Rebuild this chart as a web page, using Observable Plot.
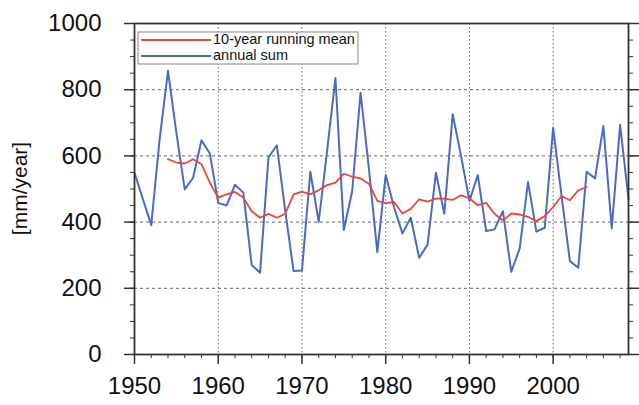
<!DOCTYPE html>
<html>
<head>
<meta charset="utf-8">
<script src="https://cdn.jsdelivr.net/npm/d3@7"></script>
<script src="https://cdn.jsdelivr.net/npm/@observablehq/plot@0.6"></script>
<style>
  html, body { margin: 0; padding: 0; background: #fff; }
  svg { display: block; }
</style>
</head>
<body>
<div id="chart"></div>
<script>
const firstYear = 1950;
const annualSum = [
  549, 470, 391, 650, 857, 670, 499, 534, 647, 607,
  458, 450, 513, 489, 270, 247, 595, 632, 435, 252,
  254, 552, 401, 615, 835, 376, 494, 791, 560, 309,
  542, 445, 366, 413, 292, 332, 549, 425, 726, 600,
  464, 542, 373, 378, 433, 250, 320, 521, 371, 383,
  685, 480, 282, 262, 552, 532, 690, 381, 694, 469
];
const meanFirstYear = 1954;
const runningMean = [
  590, 580, 577, 590, 575, 519, 474, 484, 491, 474, 433, 413,
  425, 413, 425, 484, 492, 484, 496, 512, 519, 546, 537, 532, 516, 464, 457,
  461, 426, 440, 469, 462, 471, 471, 467, 481, 472, 451, 458, 425, 405, 426, 423,
  416, 403, 418, 445, 479, 466, 496, 506
];
const yMajorTicks = [0, 200, 400, 600, 800, 1000];
const yGridTicks = [200, 400, 600, 800];
const xMajorTicks = [1950, 1960, 1970, 1980, 1990, 2000];
const xGridTicks = [1960, 1970, 1980, 1990, 2000];
const seriesNames = ["10-year running mean", "annual sum"];
const seriesColors = ["#e8473c", "#4a6bc2"];

const sumData = annualSum.map((v, i) => ({year: firstYear + i, value: v}));
const meanData = runningMean.map((v, i) => ({year: meanFirstYear + i, value: v}));

const yMinor = d3.range(0, 1001, 50);
const xMinor = d3.range(1950, 2010, 2);

const W = 639, H = 405;
const M = {top: 23, right: 11, bottom: 51, left: 134};
const font = "'Liberation Sans', Arial, Helvetica, sans-serif";

const plot = Plot.plot({
  width: W,
  height: H,
  marginTop: M.top,
  marginRight: M.right,
  marginBottom: M.bottom,
  marginLeft: M.left,
  style: {fontFamily: font, background: "#fff"},
  x: {domain: [1950, 2009], label: null},
  y: {domain: [0, 1000], label: null},
  marks: [
    Plot.gridY(yGridTicks, {stroke: "#666", strokeOpacity: 1, strokeDasharray: "3,3", strokeWidth: 1}),
    Plot.gridX(xGridTicks, {stroke: "#666", strokeOpacity: 1, strokeDasharray: "1.5,2.5", strokeWidth: 1}),
    Plot.axisY(yMinor, {anchor: "left", tickSize: 4, text: null, stroke: "#333", label: null}),
    Plot.axisY(yMinor, {anchor: "right", tickSize: 4, text: null, stroke: "#333", label: null}),
    Plot.axisY(yMajorTicks, {anchor: "left", tickSize: 10, tickPadding: 23, fontSize: 24, stroke: "#333", strokeWidth: 1.5, fill: "#111", tickFormat: d => String(d), label: null}),
    Plot.axisY(yMajorTicks, {anchor: "right", tickSize: 10, text: null, stroke: "#333", strokeWidth: 1.5, label: null}),
    Plot.axisX(xMinor, {anchor: "bottom", tickSize: 4, text: null, stroke: "#333", label: null}),
    Plot.axisX(xMajorTicks, {anchor: "bottom", tickSize: 10, tickPadding: 12, fontSize: 24, stroke: "#333", strokeWidth: 1.5, fill: "#111", tickFormat: d => String(d), label: null}),
    Plot.line(sumData, {x: "year", y: "value", stroke: seriesColors[1], strokeWidth: 2}),
    Plot.line(meanData, {x: "year", y: "value", stroke: seriesColors[0], strokeWidth: 1.8}),
    Plot.frame({stroke: "#333", strokeWidth: 1.8})
  ]
});

const svg = d3.select(plot);
// y-axis title
svg.append("text")
  .attr("transform", `translate(21,${(M.top + H - M.bottom) / 2}) rotate(-90)`)
  .attr("text-anchor", "middle")
  .attr("dominant-baseline", "middle")
  .attr("font-family", font)
  .attr("font-size", 21)
  .attr("fill", "#111")
  .text("[mm/year]");

// legend
const lg = svg.append("g").attr("font-family", font).attr("text-anchor", "start");
const lx = M.left + 4, ly = M.top + 9;
lg.append("rect")
  .attr("x", lx).attr("y", ly).attr("width", 220).attr("height", 32)
  .attr("fill", "#fff").attr("stroke", "#888").attr("stroke-width", 1);
seriesNames.forEach((name, i) => {
  const yy = ly + 8 + i * 16;
  lg.append("line")
    .attr("x1", lx + 3).attr("x2", lx + 73).attr("y1", yy).attr("y2", yy)
    .attr("stroke", seriesColors[i]).attr("stroke-width", 2);
  lg.append("text")
    .attr("x", lx + 75).attr("y", yy)
    .attr("text-anchor", "start")
    .attr("dominant-baseline", "middle")
    .attr("font-size", 14.5)
    .attr("fill", "#111")
    .text(name);
});

document.getElementById("chart").appendChild(plot);
</script>
</body>
</html>
